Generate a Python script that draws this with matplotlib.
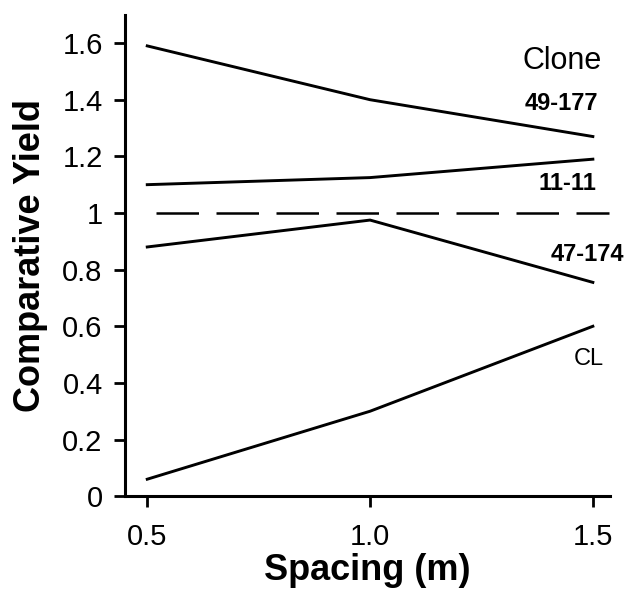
import matplotlib
matplotlib.use("Agg")
import matplotlib.pyplot as plt

plt.rcParams['font.family'] = ['Liberation Sans', 'DejaVu Sans']

# 株間距離 (m)
spacing = [0.5, 1.0, 1.5]
# クローン別の相対収量
clones = ["49-177", "11-11", "47-174", "CL"]
y_49_177 = [1.59, 1.40, 1.27]
y_11_11 = [1.10, 1.125, 1.19]
y_47_174 = [0.88, 0.975, 0.755]
y_cl = [0.06, 0.30, 0.60]
series = [y_49_177, y_11_11, y_47_174, y_cl]

yticks = [0, 0.2, 0.4, 0.6, 0.8, 1, 1.2, 1.4, 1.6]
ytick_labels = ["0", "0.2", "0.4", "0.6", "0.8", "1", "1.2", "1.4", "1.6"]
xticks = [0.5, 1.0, 1.5]
xtick_labels = ["0.5", "1.0", "1.5"]

fig = plt.figure(figsize=(6.28, 5.90), dpi=100)
ax = fig.add_axes([0.199, 0.159, 0.772, 0.816])

for ys in series:
    ax.plot(spacing, ys, color="black", lw=2.1)

# 基準線 (1)
ax.plot([0.52, 1.536], [1, 1], color="black", lw=1.8, dashes=(17, 7))

# ラベル
ax.text(1.43, 1.535, "Clone", fontsize=22, ha="center", va="center")
ax.text(1.43, 1.387, "49-177", fontsize=17, fontweight="bold", ha="center", va="center")
ax.text(1.444, 1.103, "11-11", fontsize=17, fontweight="bold", ha="center", va="center")
ax.text(1.487, 0.854, "47-174", fontsize=17, fontweight="bold", ha="center", va="center")
ax.text(1.49, 0.485, "CL", fontsize=17, ha="center", va="center")

ax.set_xlim(0.45, 1.538)
ax.set_ylim(0, 1.70)
ax.set_xticks(xticks)
ax.set_xticklabels(xtick_labels)
ax.set_yticks(yticks)
ax.set_yticklabels(ytick_labels)
ax.tick_params(direction="out", length=8, width=2, labelsize=21)
ax.tick_params(axis="y", pad=8)
ax.tick_params(axis="x", pad=11)

for side in ["top", "right"]:
    ax.spines[side].set_visible(False)
for side in ["left", "bottom"]:
    ax.spines[side].set_linewidth(2.2)

ax.set_xlabel("Spacing (m)", fontsize=26, fontweight="bold", labelpad=2)
ax.set_ylabel("Comparative Yield", fontsize=26, fontweight="bold", labelpad=10)

plt.savefig("out.png", dpi=100)
